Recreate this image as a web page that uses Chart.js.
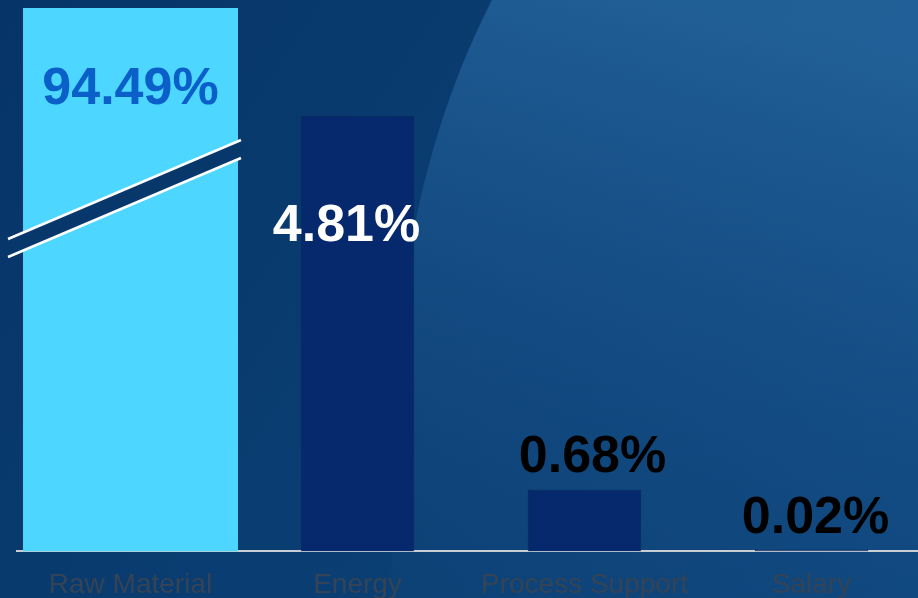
<!DOCTYPE html>
<html>
<head>
<meta charset="utf-8">
<script src="https://cdn.jsdelivr.net/npm/chart.js@4/dist/chart.umd.min.js"></script>
<style>
  html, body { margin: 0; padding: 0; overflow: hidden; background: #0a3d70; }
  .chart-container { position: relative; width: 926px; height: 619px; }
</style>
</head>
<body>
<div class="chart-container">
  <canvas id="chart"></canvas>
</div>
<script>
const categories = ['Raw Material', 'Energy', 'Process Support', 'Salary'];
const rawMaterialShare = [94.49, null, null, null];
const otherShares = [null, 4.81, 0.68, 0.02];

// label look per bar: colour, x shift, y anchor relative to bar top
const labelColors = ['#0b5fc8', '#ffffff', '#000000', '#000000'];
const labelDx = [0, -11, 8, 4];
const labelDy = [82, 111, -32, -31];

const backgroundPlugin = {
  id: 'bg',
  beforeDraw(chart) {
    const { ctx, width, height } = chart;
    ctx.save();
    let g = ctx.createLinearGradient(0, 0, width, height);
    g.addColorStop(0, '#063468');
    g.addColorStop(0.45, '#0a3d71');
    g.addColorStop(1, '#0e477d');
    ctx.fillStyle = g;
    ctx.fillRect(0, 0, width, height);

    // lighter sheen on the right, soft towards the bottom
    ctx.beginPath();
    ctx.moveTo(492, 0);
    ctx.quadraticCurveTo(420, 140, 400, 320);
    ctx.lineTo(390, height);
    ctx.lineTo(width, height);
    ctx.lineTo(width, 0);
    ctx.closePath();
    g = ctx.createLinearGradient(650, 0, 520, height);
    g.addColorStop(0, 'rgba(40,105,162,0.75)');
    g.addColorStop(0.55, 'rgba(28,88,145,0.45)');
    g.addColorStop(1, 'rgba(20,75,130,0.15)');
    ctx.fillStyle = g;
    ctx.fill();
    ctx.restore();
  }
};

const labelPlugin = {
  id: 'valueLabels',
  afterDatasetsDraw(chart) {
    const { ctx, chartArea } = chart;
    ctx.save();
    ctx.font = 'bold 52px "Liberation Sans", Arial, sans-serif';
    ctx.textAlign = 'center';
    ctx.textBaseline = 'middle';
    chart.data.datasets.forEach((ds, di) => {
      chart.getDatasetMeta(di).data.forEach((bar, i) => {
        const v = ds.data[i];
        if (v === null) return;
        const top = Math.max(bar.y, chartArea.top);
        ctx.fillStyle = labelColors[i];
        ctx.fillText(v.toFixed(2) + '%', bar.x + labelDx[i], top + labelDy[i]);
      });
    });

    // axis break across the tall bar
    const raw = chart.getDatasetMeta(0).data[0];
    const x0 = raw.x - raw.width / 2 - 15;
    const x1 = raw.x + raw.width / 2 + 3;
    const t = chartArea.top;
    ctx.beginPath();
    ctx.moveTo(x0, t + 231);
    ctx.lineTo(x1, t + 132);
    ctx.lineTo(x1, t + 150);
    ctx.lineTo(x0, t + 249);
    ctx.closePath();
    ctx.fillStyle = '#08386b';
    ctx.fill();
    ctx.strokeStyle = '#ffffff';
    ctx.lineWidth = 2.5;
    ctx.beginPath();
    ctx.moveTo(x0, t + 231);
    ctx.lineTo(x1, t + 132);
    ctx.moveTo(x0, t + 249);
    ctx.lineTo(x1, t + 150);
    ctx.stroke();
    ctx.restore();
  }
};

new Chart(document.getElementById('chart').getContext('2d'), {
  type: 'bar',
  data: {
    labels: categories,
    datasets: [{
      label: 'Raw Material',
      data: rawMaterialShare,
      backgroundColor: '#4dd6ff',
      borderWidth: 0,
      barPercentage: 0.947,
      categoryPercentage: 1,
      grouped: false,
      clip: 0
    }, {
      label: 'Other',
      data: otherShares,
      backgroundColor: '#06296e',
      borderColor: '#0b2a5c',
      borderWidth: 1,
      barPercentage: 0.5,
      categoryPercentage: 1,
      grouped: false,
      clip: 0
    }]
  },
  options: {
    responsive: true,
    maintainAspectRatio: false,
    animation: false,
    layout: { padding: { top: 8, left: 17, right: 1, bottom: 0 } },
    plugins: {
      legend: { display: false },
      tooltip: { enabled: false }
    },
    scales: {
      x: {
        grid: { display: false, drawTicks: false },
        border: { display: true, color: '#c9ced4', width: 2 },
        ticks: {
          color: '#344456',
          padding: 17,
          maxRotation: 0,
          autoSkip: false,
          font: { family: '"Liberation Sans", Arial, sans-serif', size: 28 }
        }
      },
      y: {
        display: false,
        min: 0,
        max: 6
      }
    }
  },
  plugins: [backgroundPlugin, labelPlugin]
});
</script>
</body>
</html>
